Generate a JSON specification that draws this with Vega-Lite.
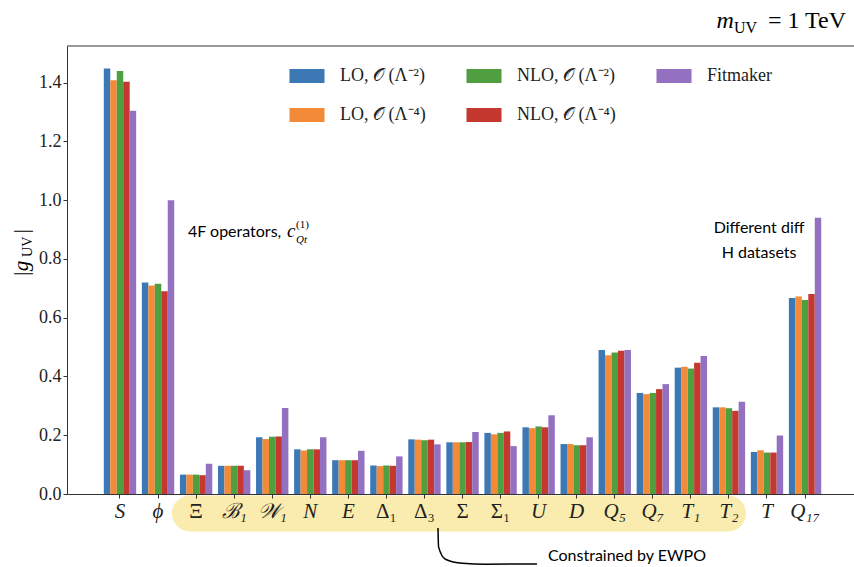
{
  "$schema": "https://vega.github.io/schema/vega-lite/v6.json",
  "width": 787,
  "height": 448,
  "autosize": {"type": "none"},
  "padding": {"left": 67, "top": 46, "right": 0, "bottom": 73},
  "background": "white",
  "config": {"view": {"stroke": null}},
  "layer": [
    {
      "data": {"values": [
        {"op":"S","fit":"LO2","g":1.448},{"op":"S","fit":"LO4","g":1.408},{"op":"S","fit":"NLO2","g":1.440},{"op":"S","fit":"NLO4","g":1.403},{"op":"S","fit":"Fitmaker","g":1.305},
        {"op":"ϕ","fit":"LO2","g":0.720},{"op":"ϕ","fit":"LO4","g":0.710},{"op":"ϕ","fit":"NLO2","g":0.716},{"op":"ϕ","fit":"NLO4","g":0.690},{"op":"ϕ","fit":"Fitmaker","g":1.000},
        {"op":"Ξ","fit":"LO2","g":0.066},{"op":"Ξ","fit":"LO4","g":0.066},{"op":"Ξ","fit":"NLO2","g":0.066},{"op":"Ξ","fit":"NLO4","g":0.064},{"op":"Ξ","fit":"Fitmaker","g":0.103},
        {"op":"ℬ₁","fit":"LO2","g":0.096},{"op":"ℬ₁","fit":"LO4","g":0.096},{"op":"ℬ₁","fit":"NLO2","g":0.096},{"op":"ℬ₁","fit":"NLO4","g":0.096},{"op":"ℬ₁","fit":"Fitmaker","g":0.081},
        {"op":"𝒲₁","fit":"LO2","g":0.193},{"op":"𝒲₁","fit":"LO4","g":0.187},{"op":"𝒲₁","fit":"NLO2","g":0.195},{"op":"𝒲₁","fit":"NLO4","g":0.196},{"op":"𝒲₁","fit":"Fitmaker","g":0.293},
        {"op":"N","fit":"LO2","g":0.152},{"op":"N","fit":"LO4","g":0.148},{"op":"N","fit":"NLO2","g":0.152},{"op":"N","fit":"NLO4","g":0.152},{"op":"N","fit":"Fitmaker","g":0.193},
        {"op":"E","fit":"LO2","g":0.115},{"op":"E","fit":"LO4","g":0.115},{"op":"E","fit":"NLO2","g":0.115},{"op":"E","fit":"NLO4","g":0.115},{"op":"E","fit":"Fitmaker","g":0.147},
        {"op":"Δ₁","fit":"LO2","g":0.097},{"op":"Δ₁","fit":"LO4","g":0.095},{"op":"Δ₁","fit":"NLO2","g":0.097},{"op":"Δ₁","fit":"NLO4","g":0.096},{"op":"Δ₁","fit":"Fitmaker","g":0.128},
        {"op":"Δ₃","fit":"LO2","g":0.186},{"op":"Δ₃","fit":"LO4","g":0.185},{"op":"Δ₃","fit":"NLO2","g":0.183},{"op":"Δ₃","fit":"NLO4","g":0.185},{"op":"Δ₃","fit":"Fitmaker","g":0.169},
        {"op":"Σ","fit":"LO2","g":0.176},{"op":"Σ","fit":"LO4","g":0.176},{"op":"Σ","fit":"NLO2","g":0.176},{"op":"Σ","fit":"NLO4","g":0.177},{"op":"Σ","fit":"Fitmaker","g":0.211},
        {"op":"Σ₁","fit":"LO2","g":0.208},{"op":"Σ₁","fit":"LO4","g":0.203},{"op":"Σ₁","fit":"NLO2","g":0.208},{"op":"Σ₁","fit":"NLO4","g":0.213},{"op":"Σ₁","fit":"Fitmaker","g":0.163},
        {"op":"U","fit":"LO2","g":0.227},{"op":"U","fit":"LO4","g":0.224},{"op":"U","fit":"NLO2","g":0.230},{"op":"U","fit":"NLO4","g":0.227},{"op":"U","fit":"Fitmaker","g":0.268},
        {"op":"D","fit":"LO2","g":0.170},{"op":"D","fit":"LO4","g":0.170},{"op":"D","fit":"NLO2","g":0.166},{"op":"D","fit":"NLO4","g":0.166},{"op":"D","fit":"Fitmaker","g":0.193},
        {"op":"Q₅","fit":"LO2","g":0.490},{"op":"Q₅","fit":"LO4","g":0.472},{"op":"Q₅","fit":"NLO2","g":0.482},{"op":"Q₅","fit":"NLO4","g":0.488},{"op":"Q₅","fit":"Fitmaker","g":0.490},
        {"op":"Q₇","fit":"LO2","g":0.344},{"op":"Q₇","fit":"LO4","g":0.340},{"op":"Q₇","fit":"NLO2","g":0.344},{"op":"Q₇","fit":"NLO4","g":0.357},{"op":"Q₇","fit":"Fitmaker","g":0.374},
        {"op":"T₁","fit":"LO2","g":0.430},{"op":"T₁","fit":"LO4","g":0.433},{"op":"T₁","fit":"NLO2","g":0.427},{"op":"T₁","fit":"NLO4","g":0.447},{"op":"T₁","fit":"Fitmaker","g":0.470},
        {"op":"T₂","fit":"LO2","g":0.295},{"op":"T₂","fit":"LO4","g":0.295},{"op":"T₂","fit":"NLO2","g":0.292},{"op":"T₂","fit":"NLO4","g":0.283},{"op":"T₂","fit":"Fitmaker","g":0.314},
        {"op":"T","fit":"LO2","g":0.143},{"op":"T","fit":"LO4","g":0.149},{"op":"T","fit":"NLO2","g":0.141},{"op":"T","fit":"NLO4","g":0.141},{"op":"T","fit":"Fitmaker","g":0.199},
        {"op":"Q₁₇","fit":"LO2","g":0.667},{"op":"Q₁₇","fit":"LO4","g":0.672},{"op":"Q₁₇","fit":"NLO2","g":0.660},{"op":"Q₁₇","fit":"NLO4","g":0.681},{"op":"Q₁₇","fit":"Fitmaker","g":0.940}
      ]},
      "mark": {"type": "bar"},
      "encoding": {
        "x": {
          "field": "op", "type": "nominal",
          "scale": {"domain": ["S","ϕ","Ξ","ℬ₁","𝒲₁","N","E","Δ₁","Δ₃","Σ","Σ₁","U","D","Q₅","Q₇","T₁","T₂","T","Q₁₇"], "paddingInner": 0.15, "paddingOuter": 0.914, "align": 0.529},
          "axis": {
            "title": null, "labelAngle": 0, "labelFont": "Liberation Serif", "labelFontSize": 21,
            "labelFontStyle": {"condition": {"test": "indexof(['Ξ','Δ₁','Δ₃','Σ','Σ₁'], datum.value) >= 0", "value": "normal"}, "value": "italic"},
            "labelColor": "#222", "tickSize": 4, "labelPadding": 2, "domainColor": "#333", "tickColor": "#333", "zindex": 1
          }
        },
        "xOffset": {"field": "fit", "type": "nominal", "scale": {"domain": ["LO2","LO4","NLO2","NLO4","Fitmaker"], "paddingInner": 0, "paddingOuter": 0}},
        "y": {
          "field": "g", "type": "quantitative",
          "scale": {"domain": [0, 1.525], "nice": false},
          "axis": {"title": null, "values": [0,0.2,0.4,0.6,0.8,1.0,1.2,1.4], "format": ".1f", "grid": false, "labelFont": "Liberation Serif", "labelFontSize": 18, "labelColor": "#222", "tickSize": 4, "labelPadding": 2, "domainColor": "#333", "tickColor": "#333", "zindex": 1}
        },
        "color": {
          "field": "fit", "type": "nominal",
          "scale": {"domain": ["LO2","NLO2","Fitmaker","LO4","NLO4"], "range": ["#3b78b4","#4f9e3f","#9370c0","#f28a37","#c5382f"]},
          "legend": {
            "title": null, "orient": "none", "legendX": 231, "legendY": 21, "columns": 3, "direction": "horizontal",
            "symbolType": "M-2.5,-1H2.5V1H-2.5Z", "symbolSize": 196, "symbolStrokeWidth": 0, "symbolOpacity": 1,
            "labelFont": "Liberation Serif", "labelFontSize": 18, "labelColor": "#222", "labelOffset": 24, "labelLimit": 300,
            "rowPadding": 21, "columnPadding": 40,
            "labelExpr": "datum.value == 'LO2' ? 'LO, 𝒪 (Λ⁻²)' : datum.value == 'LO4' ? 'LO, 𝒪 (Λ⁻⁴)' : datum.value == 'NLO2' ? 'NLO, 𝒪 (Λ⁻²)' : datum.value == 'NLO4' ? 'NLO, 𝒪 (Λ⁻⁴)' : 'Fitmaker'"
          }
        }
      }
    },
    {
      "data": {"values": [{}]},
      "layer": [
        {
          "mark": {"type": "rect", "cornerRadius": 18, "color": "#faecae"},
          "encoding": {
            "x": {"datum": 1.366, "type": "quantitative", "scale": {"domain": [-1.3925, 19.285], "nice": false, "zero": false}, "axis": null},
            "x2": {"datum": 16.448},
            "y": {"datum": -0.005, "type": "quantitative", "scale": {"domain": [0, 1.525], "nice": false}},
            "y2": {"datum": -0.128}
          }
        },
        {
          "mark": {"type": "rule", "color": "#333", "strokeWidth": 1},
          "encoding": {
            "x": {"datum": -1.3925, "type": "quantitative", "scale": {"domain": [-1.3925, 19.285], "nice": false, "zero": false}, "axis": null},
            "x2": {"datum": 19.285},
            "y": {"datum": 1.525, "type": "quantitative", "scale": {"domain": [0, 1.525], "nice": false}}
          }
        },
        {
          "data": {"values": [{"cx":8.355,"cy":-0.116},{"cx":8.37,"cy":-0.18},{"cx":8.55,"cy":-0.222},{"cx":9.0,"cy":-0.236},{"cx":9.6,"cy":-0.239},{"cx":10.956,"cy":-0.238}]},
          "mark": {"type": "line", "color": "black", "strokeWidth": 1.5, "interpolate": "monotone"},
          "encoding": {
            "x": {"field": "cx", "type": "quantitative", "scale": {"domain": [-1.3925, 19.285], "nice": false, "zero": false}, "axis": null},
            "y": {"field": "cy", "type": "quantitative", "scale": {"domain": [0, 1.525], "nice": false}}
          }
        },
        {
          "mark": {"type": "text", "text": "Constrained by EWPO", "font": "Lato", "fontSize": 16, "align": "left", "baseline": "alphabetic", "color": "black"},
          "encoding": {
            "x": {"datum": 11.245, "type": "quantitative", "scale": {"domain": [-1.3925, 19.285], "nice": false, "zero": false}, "axis": null},
            "y": {"datum": -0.228, "type": "quantitative", "scale": {"domain": [0, 1.525], "nice": false}}
          }
        },
        {
          "mark": {"type": "text", "text": "4F operators, ", "font": "Lato", "fontSize": 16, "align": "left", "baseline": "alphabetic", "color": "black"},
          "encoding": {
            "x": {"datum": 1.787, "type": "quantitative", "scale": {"domain": [-1.3925, 19.285], "nice": false, "zero": false}, "axis": null},
            "y": {"datum": 0.8748, "type": "quantitative", "scale": {"domain": [0, 1.525], "nice": false}}
          }
        },
        {
          "mark": {"type": "text", "text": "c", "font": "Liberation Serif", "fontStyle": "italic", "fontSize": 19, "align": "left", "baseline": "alphabetic", "color": "black"},
          "encoding": {
            "x": {"datum": 4.388, "type": "quantitative", "scale": {"domain": [-1.3925, 19.285], "nice": false, "zero": false}, "axis": null},
            "y": {"datum": 0.8748, "type": "quantitative", "scale": {"domain": [0, 1.525], "nice": false}}
          }
        },
        {
          "mark": {"type": "text", "text": "(1)", "font": "Liberation Serif", "fontSize": 11, "align": "left", "baseline": "alphabetic", "color": "black"},
          "encoding": {
            "x": {"datum": 4.624, "type": "quantitative", "scale": {"domain": [-1.3925, 19.285], "nice": false, "zero": false}, "axis": null},
            "y": {"datum": 0.9055, "type": "quantitative", "scale": {"domain": [0, 1.525], "nice": false}}
          }
        },
        {
          "mark": {"type": "text", "text": "Qt", "font": "Liberation Serif", "fontStyle": "italic", "fontSize": 11, "align": "left", "baseline": "alphabetic", "color": "black"},
          "encoding": {
            "x": {"datum": 4.624, "type": "quantitative", "scale": {"domain": [-1.3925, 19.285], "nice": false, "zero": false}, "axis": null},
            "y": {"datum": 0.8544, "type": "quantitative", "scale": {"domain": [0, 1.525], "nice": false}}
          }
        },
        {
          "mark": {"type": "text", "text": "Different diff", "font": "Lato", "fontSize": 16, "align": "center", "baseline": "alphabetic", "color": "black"},
          "encoding": {
            "x": {"datum": 16.79, "type": "quantitative", "scale": {"domain": [-1.3925, 19.285], "nice": false, "zero": false}, "axis": null},
            "y": {"datum": 0.8885, "type": "quantitative", "scale": {"domain": [0, 1.525], "nice": false}}
          }
        },
        {
          "mark": {"type": "text", "text": "H datasets", "font": "Lato", "fontSize": 16, "align": "center", "baseline": "alphabetic", "color": "black"},
          "encoding": {
            "x": {"datum": 16.79, "type": "quantitative", "scale": {"domain": [-1.3925, 19.285], "nice": false, "zero": false}, "axis": null},
            "y": {"datum": 0.8034, "type": "quantitative", "scale": {"domain": [0, 1.525], "nice": false}}
          }
        },
        {
          "mark": {"type": "text", "text": "m", "font": "Liberation Serif", "fontStyle": "italic", "fontSize": 24, "align": "right", "baseline": "alphabetic", "color": "black"},
          "encoding": {
            "x": {"datum": 16.13, "type": "quantitative", "scale": {"domain": [-1.3925, 19.285], "nice": false, "zero": false}, "axis": null},
            "y": {"datum": 1.5863, "type": "quantitative", "scale": {"domain": [0, 1.525], "nice": false}}
          }
        },
        {
          "mark": {"type": "text", "text": "UV", "font": "Liberation Serif", "fontSize": 16, "align": "left", "baseline": "alphabetic", "color": "black"},
          "encoding": {
            "x": {"datum": 16.13, "type": "quantitative", "scale": {"domain": [-1.3925, 19.285], "nice": false, "zero": false}, "axis": null},
            "y": {"datum": 1.5693, "type": "quantitative", "scale": {"domain": [0, 1.525], "nice": false}}
          }
        },
        {
          "mark": {"type": "text", "text": "= 1 TeV", "font": "Liberation Serif", "fontSize": 24, "align": "right", "baseline": "alphabetic", "color": "black"},
          "encoding": {
            "x": {"datum": 19.075, "type": "quantitative", "scale": {"domain": [-1.3925, 19.285], "nice": false, "zero": false}, "axis": null},
            "y": {"datum": 1.5863, "type": "quantitative", "scale": {"domain": [0, 1.525], "nice": false}}
          }
        },
        {
          "mark": {"type": "text", "text": "|g", "font": "Liberation Serif", "fontStyle": "italic", "fontSize": 21, "angle": 270, "align": "left", "baseline": "alphabetic", "color": "black"},
          "encoding": {
            "x": {"datum": -2.417, "type": "quantitative", "scale": {"domain": [-1.3925, 19.285], "nice": false, "zero": false}, "axis": null},
            "y": {"datum": 0.7387, "type": "quantitative", "scale": {"domain": [0, 1.525], "nice": false}}
          }
        },
        {
          "mark": {"type": "text", "text": "UV", "font": "Liberation Serif", "fontSize": 14, "angle": 270, "align": "left", "baseline": "alphabetic", "color": "black"},
          "encoding": {
            "x": {"datum": -2.312, "type": "quantitative", "scale": {"domain": [-1.3925, 19.285], "nice": false, "zero": false}, "axis": null},
            "y": {"datum": 0.807, "type": "quantitative", "scale": {"domain": [0, 1.525], "nice": false}}
          }
        },
        {
          "mark": {"type": "text", "text": "|", "font": "Liberation Serif", "fontSize": 21, "angle": 270, "align": "left", "baseline": "alphabetic", "color": "black"},
          "encoding": {
            "x": {"datum": -2.417, "type": "quantitative", "scale": {"domain": [-1.3925, 19.285], "nice": false, "zero": false}, "axis": null},
            "y": {"datum": 0.888, "type": "quantitative", "scale": {"domain": [0, 1.525], "nice": false}}
          }
        }
      ]
    }
  ],
  "resolve": {"scale": {"x": "independent"}}
}
